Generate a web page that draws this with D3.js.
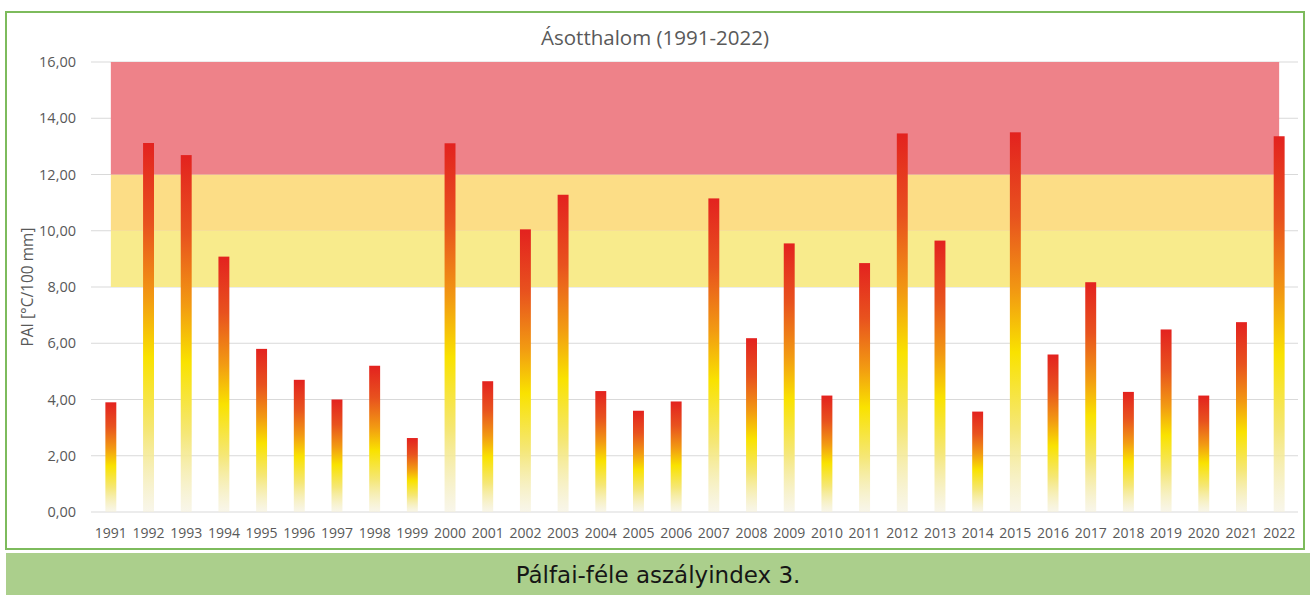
<!DOCTYPE html>
<html>
<head>
<meta charset="utf-8">
<script src="https://cdn.jsdelivr.net/npm/d3@7"></script>
<style>
  html, body { margin: 0; padding: 0; background: #ffffff; }
  svg { display: block; }
</style>
</head>
<body>
<script>
// ---- data ----
const years = ["1991","1992","1993","1994","1995","1996","1997","1998","1999","2000",
  "2001","2002","2003","2004","2005","2006","2007","2008","2009","2010",
  "2011","2012","2013","2014","2015","2016","2017","2018","2019","2020","2021","2022"];
const paiValues = [3.90, 13.12, 12.69, 9.08, 5.80, 4.70, 4.00, 5.20, 2.63, 13.11,
  4.65, 10.05, 11.28, 4.30, 3.60, 3.93, 11.15, 6.18, 9.55, 4.14,
  8.85, 13.46, 9.65, 3.57, 13.50, 5.60, 8.17, 4.27, 6.49, 4.14, 6.75, 13.36];
const yTicks = [0, 2, 4, 6, 8, 10, 12, 14, 16];
const bandLower = [8, 10, 12];
const bandUpper = [10, 12, 16];
const bandColors = ["#f8eb8c", "#fcdd86", "#ee8289"];
const title = "Ásotthalom (1991-2022)";
const yTitle = "PAI [°C/100 mm]";
const caption = "Pálfai-féle aszályindex 3.";

// ---- layout ----
const W = 1310, H = 595;
const plot = { left: 92, right: 1298, top: 62, bottom: 512 };

const svg = d3.select("body").append("svg").attr("width", W).attr("height", H);

// gradient for bars (relative to each bar)
const defs = svg.append("defs");
const grad = defs.append("linearGradient").attr("id", "barGrad")
  .attr("x1", 0).attr("y1", 0).attr("x2", 0).attr("y2", 1);
[
  [0, "#e3221f", 1],
  [0.22, "#e8521e", 1],
  [0.42, "#f29a12", 1],
  [0.58, "#f9e200", 1],
  [0.78, "#f5e777", 1],
  [1, "#f4f0dc", 0.6]
].forEach(([o, c, op]) => grad.append("stop").attr("offset", o).attr("stop-color", c).attr("stop-opacity", op));

// frame
svg.append("rect").attr("x", 6).attr("y", 12).attr("width", 1298).attr("height", 537)
  .attr("fill", "#ffffff").attr("stroke", "#7dbb5c").attr("stroke-width", 2);

// caption band
svg.append("rect").attr("x", 6).attr("y", 553).attr("width", W - 6).attr("height", 42)
  .attr("fill", "#abcf8c");
svg.append("text").attr("x", 658).attr("y", 583).attr("text-anchor", "middle")
  .attr("font-family", "DejaVu Sans, Verdana, sans-serif").attr("font-size", 23)
  .attr("fill", "#161616").text(caption);

// scales
const x = d3.scaleBand().domain(years).range([plot.left, plot.right])
  .paddingInner(0.71).paddingOuter(0.355);
const y = d3.scaleLinear().domain([0, 16]).range([plot.bottom, plot.top]);
const cx = d => x(d) + x.bandwidth() / 2;

// gridlines
svg.append("g").selectAll("line").data(yTicks).join("line")
  .attr("x1", plot.left - 1).attr("x2", plot.right)
  .attr("y1", d => y(d)).attr("y2", d => y(d))
  .attr("stroke", "#d9d9d9").attr("stroke-width", 1);

// background bands (area across categories)
const bandG = svg.append("g");
bandLower.forEach((lo, i) => {
  const hi = bandUpper[i];
  const area = d3.area().x(d => cx(d)).y0(y(lo)).y1(y(hi));
  bandG.append("path").datum(years).attr("d", area).attr("fill", bandColors[i]);
});

// bars
svg.append("g").selectAll("rect").data(years).join("rect")
  .attr("x", d => x(d)).attr("width", x.bandwidth())
  .attr("y", (d, i) => y(paiValues[i]))
  .attr("height", (d, i) => y(0) - y(paiValues[i]))
  .attr("fill", "url(#barGrad)");

// axes
const fmt = v => d3.format(".2f")(v).replace(".", ",");
const yAxis = svg.append("g").attr("transform", `translate(${plot.left - 13},0)`)
  .call(d3.axisLeft(y).tickValues(yTicks).tickFormat(fmt).tickSize(0));
yAxis.select(".domain").remove();
yAxis.selectAll("text").attr("font-family", "Open Sans, sans-serif").attr("font-size", 14.5)
  .attr("fill", "#595959").attr("dx", 0);

const xAxis = svg.append("g").attr("transform", `translate(0,${plot.bottom + 13})`)
  .call(d3.axisBottom(x).tickSize(0));
xAxis.select(".domain").remove();
xAxis.selectAll("text").attr("font-family", "Open Sans, sans-serif").attr("font-size", 14)
  .attr("fill", "#595959");

// titles
svg.append("text").attr("x", 655).attr("y", 45).attr("text-anchor", "middle")
  .attr("font-family", "Open Sans, sans-serif").attr("font-size", 20.5)
  .attr("fill", "#595959").text(title);

svg.append("text").attr("transform", `translate(33,${(plot.top + plot.bottom) / 2}) rotate(-90)`)
  .attr("text-anchor", "middle")
  .attr("font-family", "Open Sans, sans-serif").attr("font-size", 15.5)
  .attr("fill", "#595959").text(yTitle);
</script>
</body>
</html>
